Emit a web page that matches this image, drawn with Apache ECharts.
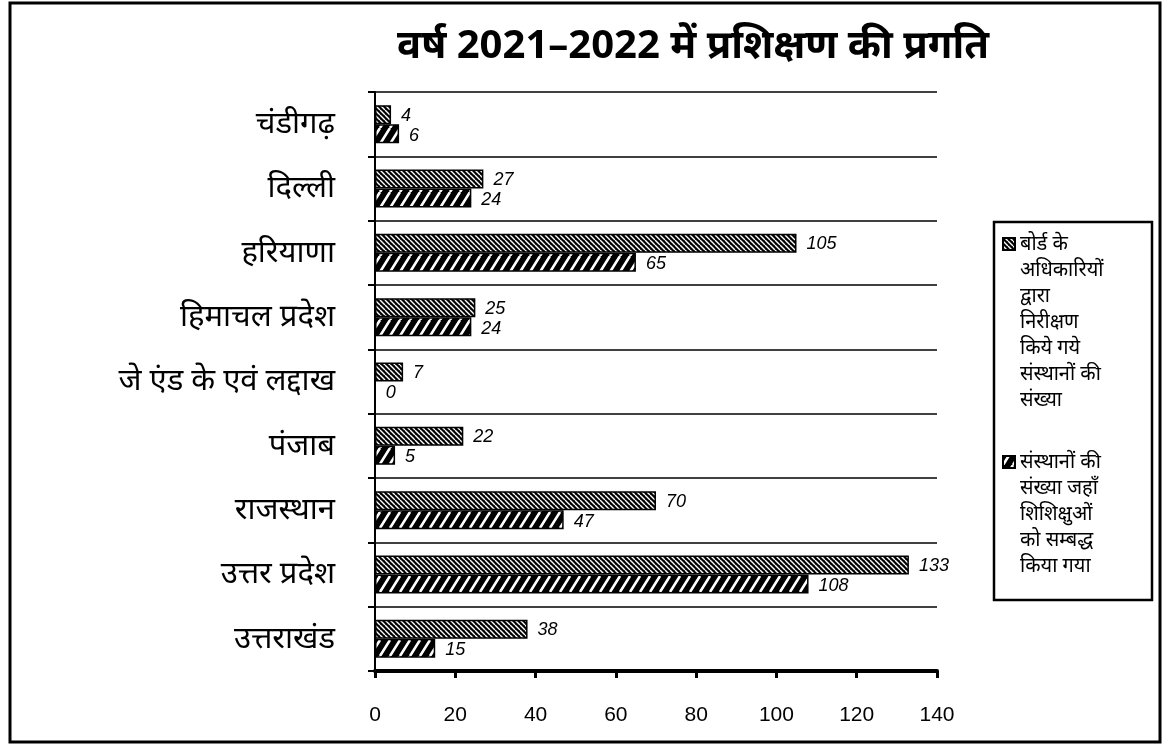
<!DOCTYPE html>
<html>
<head>
<meta charset="utf-8">
<script src="https://cdn.jsdelivr.net/npm/echarts@6/dist/echarts.min.js"></script>
<style>
  html, body { margin: 0; padding: 0; background: #fff; }
  #chart { width: 1172px; height: 749px; }
</style>
</head>
<body>
<div id="chart"></div>
<script>
// data
var states = ['चंडीगढ़', 'दिल्ली', 'हरियाणा', 'हिमाचल प्रदेश', 'जे एंड के एवं लद्दाख', 'पंजाब', 'राजस्थान', 'उत्तर प्रदेश', 'उत्तराखंड'];
var inspected = [4, 27, 105, 25, 7, 22, 70, 133, 38];
var attached = [6, 24, 65, 24, 0, 5, 47, 108, 15];
var xTicks = [0, 20, 40, 60, 80, 100, 120, 140];

var nameInspected = 'बोर्ड के\nअधिकारियों\nद्वारा\nनिरीक्षण\nकिये गये\nसंस्थानों की\nसंख्या';
var nameAttached = 'संस्थानों की\nसंख्या जहाँ\nशिशिक्षुओं\nको सम्बद्ध\nकिया गया';

var hindiFont = '"Noto Sans", "Noto Sans Devanagari", "Lohit Devanagari", "FreeSans", sans-serif';
var numFont = '"Liberation Sans", Arial, sans-serif';

// hatch patterns
function makeHatch(w, h, lw, dir) {
  var c = document.createElement('canvas');
  c.width = w; c.height = h;
  var ctx = c.getContext('2d');
  ctx.fillStyle = '#000';
  ctx.fillRect(0, 0, w, h);
  ctx.strokeStyle = '#fff';
  ctx.lineWidth = lw;
  ctx.beginPath();
  for (var k = -1; k <= 1; k++) {
    if (dir === 'back') {
      ctx.moveTo(k * w, 0); ctx.lineTo(k * w + w, h);
    } else {
      ctx.moveTo(k * w, h); ctx.lineTo(k * w + w, 0);
    }
  }
  ctx.stroke();
  return c;
}
var patInspected = { image: makeHatch(5, 5, 1.4, 'back'), repeat: 'repeat' };
var patAttached = { image: makeHatch(10, 16, 2.6, 'fwd'), repeat: 'repeat' };

// legend icon: small square at the top of a tall box so it sits by the first text line
function topSquare(h) {
  return 'path://M0,7L12,7L12,19L0,19ZM0,0M12,' + h;
}

var legendText = { fontSize: 20, lineHeight: 26, color: '#000', fontFamily: hindiFont };

var chart = echarts.init(document.getElementById('chart'));
chart.setOption({
  animation: false,
  backgroundColor: '#fff',
  title: {
    text: 'वर्ष 2021–2022 में प्रशिक्षण की प्रगति',
    left: 688,
    textAlign: 'center',
    top: 22,
    textStyle: { fontSize: 40, fontWeight: 'bold', color: '#000', fontFamily: hindiFont }
  },
  graphic: [{
    type: 'rect',
    shape: { x: 10, y: 3, width: 1150, height: 739 },
    style: { fill: 'none', stroke: '#000', lineWidth: 3 },
    silent: true
  }, {
    type: 'rect',
    shape: { x: 994, y: 222, width: 158, height: 378 },
    style: { fill: 'none', stroke: '#000', lineWidth: 2.5 },
    silent: true
  }],
  legend: [{
    orient: 'vertical',
    left: 1002,
    top: 230,
    padding: 0,
    itemWidth: 12,
    itemHeight: 182,
    itemGap: 0,
    align: 'left',
    textStyle: legendText,
    data: [{ name: nameInspected, icon: topSquare(182) }]
  }, {
    orient: 'vertical',
    left: 1002,
    top: 448,
    padding: 0,
    itemWidth: 12,
    itemHeight: 130,
    itemGap: 0,
    align: 'left',
    textStyle: legendText,
    data: [{ name: nameAttached, icon: topSquare(130) }]
  }],
  grid: { left: 375, right: 235, top: 92, bottom: 78, containLabel: false },
  xAxis: {
    type: 'value',
    min: 0,
    max: 140,
    interval: 20,
    axisLine: { show: true, lineStyle: { color: '#000', width: 4 } },
    axisTick: { show: true, length: 7, lineStyle: { color: '#000', width: 3 } },
    axisLabel: {
      margin: 34, fontSize: 21, color: '#000', fontFamily: numFont,
      formatter: function (v) { return xTicks.indexOf(v) >= 0 ? String(v) : ''; }
    },
    splitLine: { show: false }
  },
  yAxis: {
    type: 'category',
    data: states,
    inverse: true,
    axisLine: { show: true, lineStyle: { color: '#000', width: 2 } },
    axisTick: { show: true, length: 7, lineStyle: { color: '#000', width: 2 } },
    axisLabel: { margin: 40, fontSize: 31, color: '#000', fontFamily: hindiFont },
    splitLine: { show: true, lineStyle: { color: '#000', width: 1.5 } }
  },
  series: [{
    name: nameInspected,
    type: 'bar',
    data: inspected,
    barWidth: 19,
    barGap: '0%',
    itemStyle: { color: patInspected, borderColor: '#000', borderWidth: 1.5 },
    label: {
      show: true, position: 'right', distance: 10, offset: [0, 1],
      fontSize: 18, fontStyle: 'italic', color: '#000', fontFamily: numFont
    }
  }, {
    name: nameAttached,
    type: 'bar',
    data: attached,
    barWidth: 19,
    itemStyle: { color: patAttached, borderColor: '#000', borderWidth: 1.5 },
    label: {
      show: true, position: 'right', distance: 10, offset: [0, 2],
      fontSize: 18, fontStyle: 'italic', color: '#000', fontFamily: numFont
    }
  }]
});
</script>
</body>
</html>
